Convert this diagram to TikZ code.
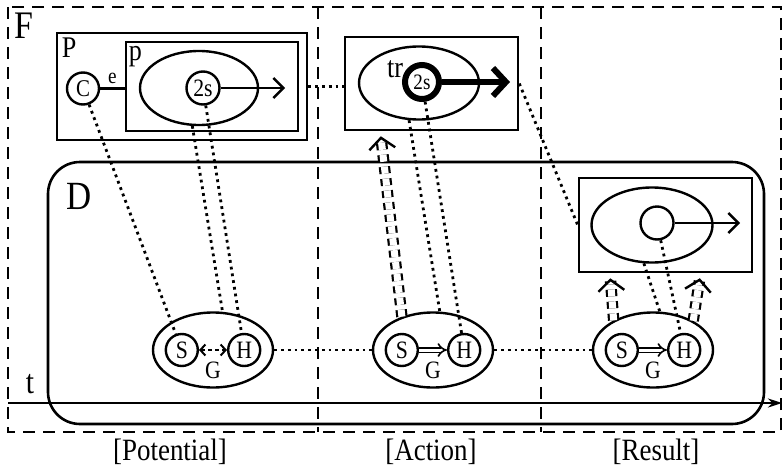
\documentclass[tikz,border=0pt]{standalone}
\usepackage{fontspec}
\setmainfont{Liberation Serif}[FakeStretch=0.87]
\usetikzlibrary{positioning,shapes.geometric,arrows.meta}
\newcommand{\fsz}[1]{\fontsize{#1}{#1}\selectfont}

\begin{document}
\begin{tikzpicture}[x=1pt,y=-1pt,
  frame/.style={line width=2.8pt, dash pattern=on 12pt off 8pt},
  box/.style={draw, rectangle, line width=2.6pt, inner sep=0pt},
  oval/.style={draw, ellipse, line width=2.4pt, inner sep=0pt, minimum width=120pt, minimum height=75pt},
  ring/.style={draw, circle, line width=2.4pt, inner sep=0pt, minimum size=32pt, font=\fsz{25}},
  tag/.style={inner sep=0pt, font=\fsz{30}},
  link/.style={line width=2.8pt, dash pattern=on 2.8pt off 4pt},
  lift/.style={double, line width=2.2pt, double distance=7pt, dash pattern=on 7pt off 5pt, -{Straight Barb[length=11pt,width=26pt,line width=2.4pt]}, shorten >=5pt},
  move/.style={line width=2.4pt, -{Straight Barb[length=10pt,width=20pt]}},
  pass/.style={double, line width=1.6pt, double distance=3pt, -{Implies}}]

  \useasboundingbox (0,0) rectangle (783,471);
  \draw[frame] (8,7) rectangle (781,432);
  \draw[frame] (318,7) -- (318,432);
  \draw[frame] (541,7) -- (541,432);
  \draw[line width=2.6pt, rounded corners=32pt] (48,162) rectangle (764,424);
  \coordinate (t0) at (8,403);
  \coordinate (t1) at (782,403);
  \draw[line width=2.6pt, -{Stealth[length=14pt,width=9pt]}] (t0) -- (t1);

  \node[tag, font=\fsz{39}] (F) at (24,26) {F};
  \node[tag, font=\fsz{40}] (D) at (79,196) {D};
  \node[tag, font=\fsz{34}] (t) at (30,384) {t};

  \node[box, minimum width=250pt, minimum height=107pt] (P) at (182,86.5) {};
  \node[box, minimum width=172pt, minimum height=89pt] (p) at (212,86.5) {};
  \node[tag] (Plbl) [below right=6pt and 6pt of P.north west] {P};
  \node[tag] (plbl) [below right=5pt and 4pt of p.north west] {p};
  \node[oval, minimum width=118pt, minimum height=74pt] (pell) at (199,88) {};
  \node[ring, minimum size=33pt] (p2s) at (203,88) {2s};
  \coordinate (ptip) at (285,88);
  \draw[move] (p2s) -- (ptip);
  \node[ring, font=\fsz{24}] (C) at (83,88.5) {C};
  \draw[line width=2.4pt] (C) -- (C -| p.west) node[midway, above=3.5pt, font=\fsz{22}, inner sep=0pt] (e) {e};

  \node[box, minimum width=173pt, minimum height=93pt] (trbox) at (431.5,83.5) {};
  \node[oval, minimum height=73pt] (tell) at (419,83) {};
  \node[ring, line width=6pt, minimum size=34pt, font=\fsz{22}] (a2s) at (422,82) {2s};
  \node[tag] (tr) at (395,69) {tr};
  \coordinate (atip) at (510,82);
  \draw[line width=6pt, -{Straight Barb[length=13pt,width=28pt]}] (a2s) -- (atip);

  \node[box, minimum width=173pt, minimum height=94pt] (rbox) at (665.5,225) {};
  \node[oval, minimum width=121pt] (rell) at (652,225) {};
  \node[ring, minimum size=33pt] (rc) at (657,223) {};
  \coordinate (rtip) at (740,223);
  \draw[move] (rc) -- (rtip);

  \foreach \i/\x in {1/213,2/433,3/653} {
    \node[oval] (G\i) at (\x,350) {};
    \node[ring] (S\i) [left=14pt of G\i.center] {S};
    \node[ring] (H\i) [right=14pt of G\i.center] {H};
    \node[tag, font=\fsz{25}] (g\i) [below=12pt of G\i.center] {G};
  }
  \draw[{Straight Barb[length=5pt,width=11pt]}-{Straight Barb[length=5pt,width=11pt]}, line width=2pt, dash pattern=on 4pt off 3pt] (S1) -- (H1);
  \draw[pass] (S2) -- (H2);
  \draw[pass] (S3) -- (H3);

  \draw[link] (G1) -- (G2);
  \draw[link] (G2) -- (G3);
  \draw[link] (P.east) -- (P.east -| trbox.west);
  \draw[link] (trbox.east) -- (rbox.west);
  \draw[link] (C) -- (S1);
  \draw[link] (pell.260) -- (G1.76);
  \draw[link] (p2s) -- (H1);
  \draw[link] (tell.255) -- (G2.80);
  \draw[link] (a2s) -- (H2);
  \draw[link] (rell.258) -- (G3.80);
  \draw[link] (rc) -- (H3);
  \draw[lift] (G2.133) -- (trbox.223);
  \draw[lift] (G3.143) -- (rbox.221);
  \draw[lift] (G3.36) -- (rbox.306);

  \node[tag, font=\fsz{31}] (pot) at (170,452) {[Potential]};
  \node[tag, font=\fsz{31}] (act) at (431,452) {[Action]};
  \node[tag, font=\fsz{31}] (res) at (656,452) {[Result]};
\end{tikzpicture}
\end{document}
